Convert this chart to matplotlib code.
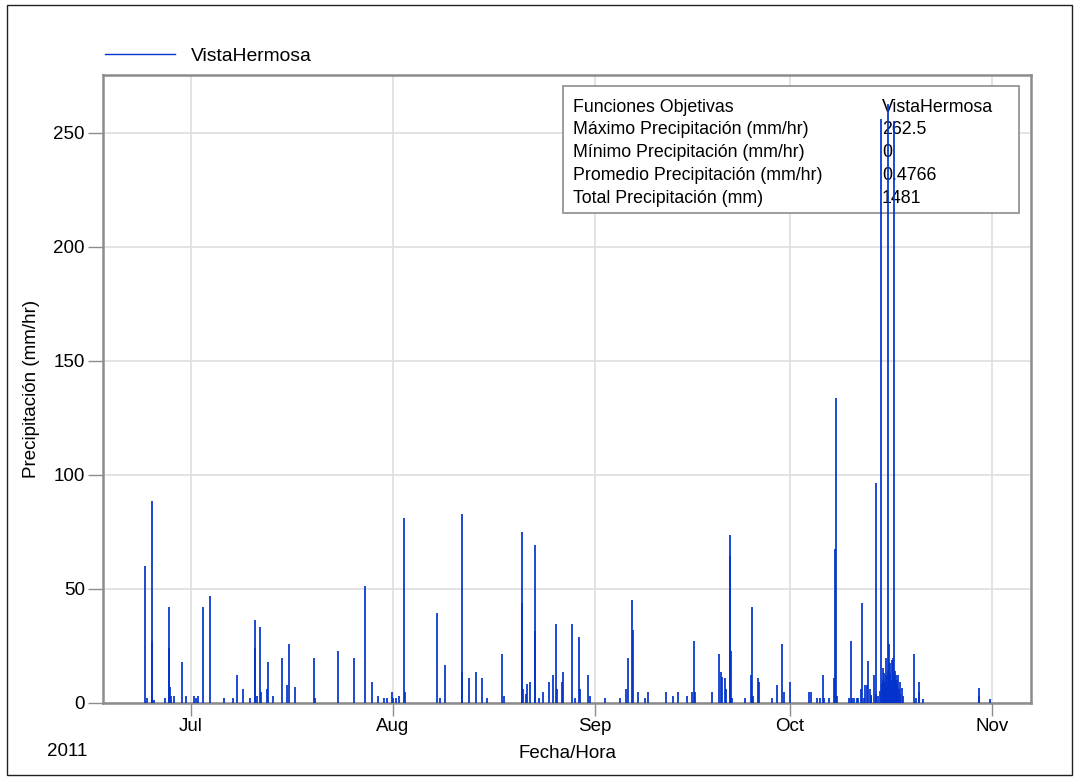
import matplotlib
matplotlib.use("Agg")
import matplotlib.pyplot as plt
import matplotlib.dates as mdates
from matplotlib.lines import Line2D
from matplotlib.patches import Rectangle
import pandas as pd

plt.rcParams['font.family'] = ['Liberation Sans', 'DejaVu Sans']

# precipitation spikes (hourly values, mm/hr)
fechas_jun_jul = ['2011-06-23 23:00', '2011-06-24 06:00', '2011-06-25 00:00', '2011-06-25 01:00',
                  '2011-06-25 09:00', '2011-06-27 01:00', '2011-06-27 15:00', '2011-06-27 16:00',
                  '2011-06-27 20:00', '2011-06-28 00:00', '2011-06-28 10:00', '2011-06-29 16:00',
                  '2011-06-30 05:00', '2011-07-01 12:00', '2011-07-01 19:00', '2011-07-02 03:00',
                  '2011-07-02 20:00', '2011-07-03 23:00', '2011-07-06 03:00', '2011-07-07 11:00',
                  '2011-07-08 02:00', '2011-07-09 00:00', '2011-07-10 03:00', '2011-07-10 20:00',
                  '2011-07-10 21:00', '2011-07-11 03:00', '2011-07-11 15:00', '2011-07-11 20:00',
                  '2011-07-12 16:00', '2011-07-12 20:00', '2011-07-13 16:00', '2011-07-14 23:00',
                  '2011-07-15 18:00', '2011-07-16 00:00', '2011-07-17 00:00', '2011-07-19 20:00',
                  '2011-07-20 01:00', '2011-07-23 15:00', '2011-07-26 02:00', '2011-07-27 17:00',
                  '2011-07-28 19:00', '2011-07-29 17:00', '2011-07-30 16:00', '2011-07-31 04:00',
                  '2011-07-31 21:00']
precip_jun_jul = [60, 2, 88.5, 27, 1, 2, 42, 24, 7, 3, 3, 18,
                  3, 3, 2, 3, 42, 46.7, 2, 2, 12, 6, 2, 36.3,
                  24, 3, 33.2, 4.7, 6, 18, 3, 19.5, 7.7, 25.6, 7, 19.5,
                  2, 22.5, 19.5, 51.2, 9, 3, 2, 2, 4.7]

fechas_ago = ['2011-08-01 02:00', '2011-08-01 10:00', '2011-08-01 23:00', '2011-08-02 17:00',
              '2011-08-02 21:00', '2011-08-07 20:00', '2011-08-08 07:00', '2011-08-08 23:00',
              '2011-08-11 15:00', '2011-08-11 16:00', '2011-08-12 17:00', '2011-08-13 20:00',
              '2011-08-14 18:00', '2011-08-15 12:00', '2011-08-17 20:00', '2011-08-18 01:00',
              '2011-08-20 20:00', '2011-08-20 21:00', '2011-08-21 01:00', '2011-08-21 12:00',
              '2011-08-21 16:00', '2011-08-22 03:00', '2011-08-22 20:00', '2011-08-22 21:00',
              '2011-08-23 09:00', '2011-08-24 00:00', '2011-08-24 23:00', '2011-08-25 14:00',
              '2011-08-26 02:00', '2011-08-26 06:00', '2011-08-26 22:00', '2011-08-27 03:00',
              '2011-08-28 13:00', '2011-08-28 23:00', '2011-08-29 15:00', '2011-08-29 19:00',
              '2011-08-30 23:00', '2011-08-31 06:00']
precip_ago = [2, 2, 3, 81, 4.7, 39.2, 2, 16.5,
              13.6, 82.6, 10.7, 13.6, 10.7, 2, 21.4, 3,
              75, 43.7, 6, 4, 8, 9, 69, 31.6,
              2, 4.7, 9, 12, 34.5, 6, 9, 13.6,
              34.5, 2, 28.7, 6, 12, 3]

fechas_sep = ['2011-09-02 15:00', '2011-09-04 23:00', '2011-09-05 21:00', '2011-09-06 01:00',
              '2011-09-06 19:00', '2011-09-06 20:00', '2011-09-07 16:00', '2011-09-08 19:00',
              '2011-09-09 05:00', '2011-09-12 00:00', '2011-09-13 01:00', '2011-09-13 20:00',
              '2011-09-15 04:00', '2011-09-16 00:00', '2011-09-16 05:00', '2011-09-16 08:00',
              '2011-09-19 01:00', '2011-09-20 02:00', '2011-09-20 10:00', '2011-09-20 14:00',
              '2011-09-21 01:00', '2011-09-21 05:00', '2011-09-21 17:00', '2011-09-21 20:00',
              '2011-09-21 22:00', '2011-09-22 03:00', '2011-09-24 03:00', '2011-09-25 00:00',
              '2011-09-25 02:00', '2011-09-25 06:00', '2011-09-26 02:00', '2011-09-26 05:00',
              '2011-09-28 06:00', '2011-09-29 00:00', '2011-09-29 20:00', '2011-09-30 00:00',
              '2011-09-30 23:00']
precip_sep = [2, 2, 6, 19.5, 45, 31.9, 4.7, 2,
              4.7, 4.7, 3, 4.7, 3, 4.7, 27, 4.7,
              4.7, 21.4, 13.6, 11.4, 10.7, 6, 64.4, 73.6,
              22.5, 2, 2, 12, 42, 3, 10.7, 9,
              2, 7.6, 25.6, 4.7, 9]

fechas_oct = ['2011-10-03 21:00', '2011-10-04 06:00', '2011-10-05 05:00', '2011-10-05 16:00',
              '2011-10-06 00:00', '2011-10-06 04:00', '2011-10-07 00:00', '2011-10-07 17:00',
              '2011-10-07 21:00', '2011-10-08 02:00', '2011-10-08 06:00', '2011-10-10 02:00',
              '2011-10-10 09:00', '2011-10-10 13:00', '2011-10-10 19:00', '2011-10-11 05:00',
              '2011-10-11 09:00', '2011-10-11 22:00', '2011-10-12 01:00', '2011-10-12 10:00',
              '2011-10-12 14:00', '2011-10-12 18:00', '2011-10-13 01:00', '2011-10-13 06:00',
              '2011-10-13 09:00', '2011-10-13 12:00', '2011-10-13 20:00', '2011-10-14 03:00',
              '2011-10-14 06:00', '2011-10-14 13:00', '2011-10-14 18:00', '2011-10-15 01:00',
              '2011-10-15 03:00', '2011-10-15 06:00', '2011-10-15 08:00', '2011-10-15 10:00',
              '2011-10-15 12:00', '2011-10-15 14:00', '2011-10-15 16:00', '2011-10-15 19:00',
              '2011-10-15 22:00', '2011-10-16 00:00', '2011-10-16 02:00', '2011-10-16 03:30',
              '2011-10-16 05:00', '2011-10-16 08:00', '2011-10-16 10:00', '2011-10-16 12:00',
              '2011-10-16 14:00', '2011-10-16 17:00', '2011-10-16 20:00', '2011-10-16 23:00',
              '2011-10-17 01:00', '2011-10-17 02:00', '2011-10-17 04:00', '2011-10-17 06:00',
              '2011-10-17 09:00', '2011-10-17 12:00', '2011-10-17 14:00', '2011-10-17 17:00',
              '2011-10-17 20:00', '2011-10-17 22:00', '2011-10-18 03:00', '2011-10-18 08:00',
              '2011-10-20 01:00', '2011-10-20 07:00', '2011-10-20 18:00', '2011-10-20 21:00',
              '2011-10-21 10:00', '2011-10-29 23:00', '2011-10-30 02:00', '2011-10-31 16:00']
precip_oct = [4.7, 4.7, 2, 2,
              12, 2, 2, 10.7,
              67.6, 133.6, 3, 2,
              27, 2, 2, 2,
              2, 6, 43.6, 2,
              7.8, 7.6, 18.3, 6,
              3.4, 3, 12, 96.3,
              4, 3, 5, 256,
              8, 15.2, 10, 6,
              13, 9, 19.6, 12,
              7, 262.5, 14, 11,
              25.7, 17.4, 13, 8,
              18.7, 10, 19.7, 255,
              14, 10, 7, 12,
              8, 10, 12, 6,
              9.2, 4, 6.4, 3,
              21.2, 2, 9.2, 4.8,
              1.6, 6.4, 3, 1.6]

fechas = pd.to_datetime(fechas_jun_jul + fechas_ago + fechas_sep + fechas_oct)
precip = precip_jun_jul + precip_ago + precip_sep + precip_oct

serie = 'VistaHermosa'
filas_tabla = ['Funciones Objetivas', 'Máximo Precipitación (mm/hr)', 'Mínimo Precipitación (mm/hr)',
               'Promedio Precipitación (mm/hr)', 'Total Precipitación (mm)']
valores_tabla = ['VistaHermosa', '262.5', '0', '0.4766', '1481']

azul = '#0333cc'
gris = '#8c8c8c'
fs = 13.5

fig = plt.figure(figsize=(10.78, 7.80), dpi=100)
ax = fig.add_axes([103 / 1078, 1 - 702.7 / 780, 928 / 1078, 627.7 / 780])

ax.vlines(fechas, 0, precip, color=azul, lw=1.25, zorder=3)

ax.set_xlim(pd.Timestamp('2011-06-17 12:00'), pd.Timestamp('2011-11-07 00:00'))
ax.set_ylim(0, 275.4)
ax.set_yticks([0, 50, 100, 150, 200, 250])
ax.xaxis.set_major_locator(mdates.MonthLocator())
ax.xaxis.set_major_formatter(mdates.DateFormatter('%b'))

ax.set_axisbelow(True)
ax.grid(True, color='#dedede', lw=1.2)
for s in ax.spines.values():
    s.set_color(gris)
    s.set_linewidth(1.8)
ax.tick_params(axis='y', length=11, width=1, color=gris, pad=2, labelsize=fs)
ax.tick_params(axis='x', length=9, width=1, color=gris, pad=2, labelsize=fs)

ax.set_ylabel('Precipitación (mm/hr)', fontsize=fs)
ax.yaxis.set_label_coords(-0.068, 0.5)
ax.set_xlabel('Fecha/Hora', fontsize=fs)
ax.xaxis.set_label_coords(0.5, -0.068)
fig.text(67 / 1078, 1 - 751 / 780, '2011', fontsize=fs, ha='center', va='center')

# stats box, under the data lines
ax.add_patch(Rectangle((0.4957, 0.7801), 0.4914, 0.2024, transform=ax.transAxes,
                       facecolor='white', edgecolor=gris, lw=1.2, zorder=1.5))
for i, (fila, valor) in enumerate(zip(filas_tabla, valores_tabla)):
    y = 0.9490 - i * 0.0366
    ax.text(0.5065, y, fila, transform=ax.transAxes, fontsize=12.8, va='center', zorder=2)
    ax.text(0.8395, y, valor, transform=ax.transAxes, fontsize=12.8, va='center', zorder=2)

# legend above the plot
fig.legend(handles=[Line2D([], [], color=azul, lw=1.0)], labels=[serie],
           loc='center left', bbox_to_anchor=(105 / 1078, 1 - 56 / 780), frameon=False,
           borderpad=0, borderaxespad=0, handlelength=3.6, handletextpad=0.85, fontsize=13.9)

# outer frame
fig.patches.append(Rectangle((7 / 1078, 5 / 780), 1065 / 1078, 770 / 780, transform=fig.transFigure,
                             fill=False, edgecolor='#222222', lw=1.0))

fig.savefig('out.png', dpi=100)
